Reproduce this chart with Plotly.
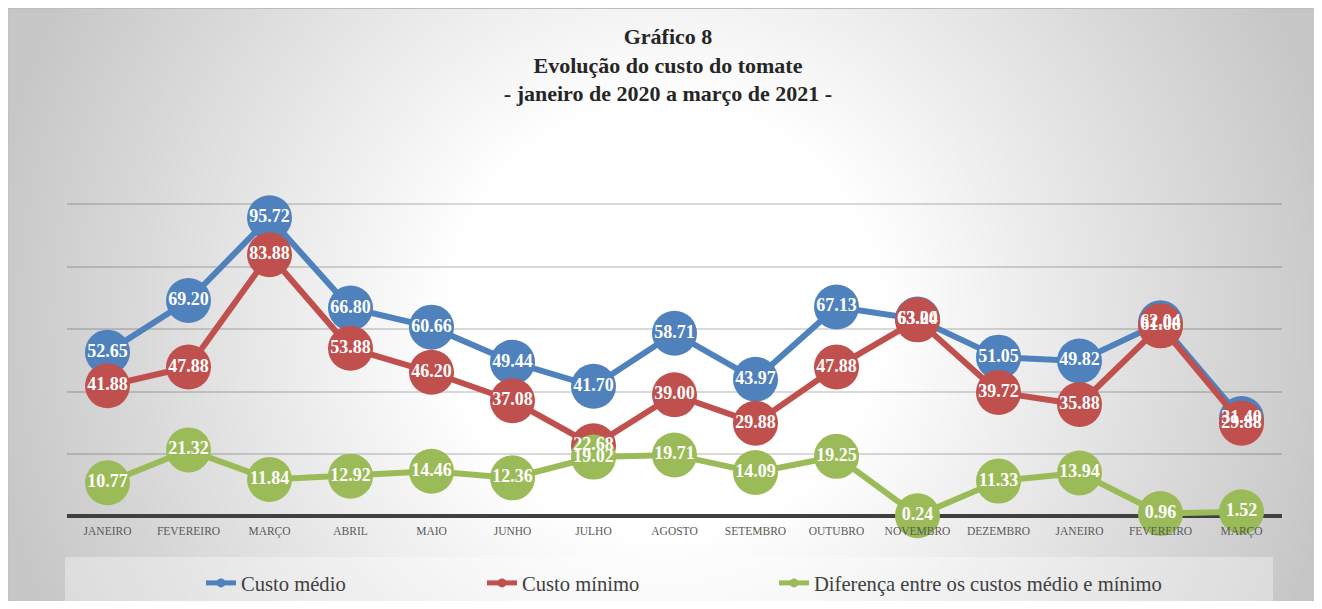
import base64, struct, zlib
import numpy as np
import plotly.graph_objects as go

# ---------------- data ----------------
months = ["JANEIRO", "FEVEREIRO", "MARÇO", "ABRIL", "MAIO", "JUNHO", "JULHO",
          "AGOSTO", "SETEMBRO", "OUTUBRO", "NOVEMBRO", "DEZEMBRO",
          "JANEIRO", "FEVEREIRO", "MARÇO"]
custo_medio = [52.65, 69.20, 95.72, 66.80, 60.66, 49.44, 41.70, 58.71, 43.97,
               67.13, 63.24, 51.05, 49.82, 62.04, 31.40]
custo_minimo = [41.88, 47.88, 83.88, 53.88, 46.20, 37.08, 22.68, 39.00, 29.88,
                47.88, 63.00, 39.72, 35.88, 61.08, 29.88]
diferenca = [10.77, 21.32, 11.84, 12.92, 14.46, 12.36, 19.02, 19.71, 14.09,
             19.25, 0.24, 11.33, 13.94, 0.96, 1.52]
series_names = ["Custo médio", "Custo mínimo", "Diferença entre os custos médio e mínimo"]
series_colors = ["#4F81BD", "#C0504D", "#9BBB59"]

# ---------------- geometry (figure px; page offset of 8px by body margin) ----------------
OFF = 8
FW, FH = 1306, 593
ML, MR, MT, MB = 67 - OFF, FW - (1282 - OFF), 142 - OFF, 83
PW, PH = FW - ML - MR, FH - MT - MB


def px2x(px):          # page px -> paper x
    return (px - OFF - ML) / PW


def py2y(py):          # page px -> paper y
    return (FH - MB - (py - OFF)) / PH


def cx(px):            # page px -> container x
    return (px - OFF) / FW


def cy(py):            # page px -> container y
    return 1 - (py - OFF) / FH


SERIF = "Liberation Serif"

# ---------------- background radial gradient (decoration) ----------------
GW, GH = 330, 150
xs = OFF + (np.arange(GW) + 0.5) * FW / GW
ys = OFF + (np.arange(GH) + 0.5) * FH / GH
gx, gy = np.meshgrid(xs, ys)
dist = np.hypot(gx - 665, gy - 320)
val = np.clip(255 - 0.12 * np.clip(dist - 220, 0, None), 198, 255).astype(np.uint8)
raw = b"".join(b"\x00" + val[i].tobytes() for i in range(GH))


def _chunk(t, data):
    return struct.pack(">I", len(data)) + t + data + struct.pack(">I", zlib.crc32(t + data) & 0xFFFFFFFF)


png = (b"\x89PNG\r\n\x1a\n"
       + _chunk(b"IHDR", struct.pack(">IIBBBBB", GW, GH, 8, 0, 0, 0, 0))
       + _chunk(b"IDAT", zlib.compress(raw, 9))
       + _chunk(b"IEND", b""))
bg_src = "data:image/png;base64," + base64.b64encode(png).decode()

# ---------------- figure ----------------
fig = go.Figure()
xi = list(range(len(months)))
all_series = [custo_medio, custo_minimo, diferenca]

# lines + markers
for name, vals, col in zip(series_names, all_series, series_colors):
    fig.add_trace(go.Scatter(
        x=xi, y=vals, name=name, mode="lines+markers",
        line=dict(color=col, width=6),
        marker=dict(color=col, size=45, line=dict(width=0)),
        cliponaxis=False, showlegend=False, hoverinfo="x+y",
    ))

# data labels drawn above every marker
for name, vals in zip(series_names, all_series):
    fig.add_trace(go.Scatter(
        x=xi, y=vals, name=name, mode="text",
        texttemplate="%{y:.2f}", textposition="middle center",
        textfont=dict(family=SERIF, size=18, color="white", weight="bold"),
        cliponaxis=False, showlegend=False, hoverinfo="skip",
    ))

# legend entries (one legend per series, placed like the original)
legend_text_px = [242, 523, 815]
for k, (name, col) in enumerate(zip(series_names, series_colors)):
    lg = "legend" if k == 0 else f"legend{k + 1}"
    fig.add_trace(go.Scatter(
        x=[None], y=[None], name=name, mode="lines+markers",
        line=dict(color=col, width=5), marker=dict(color=col, size=9),
        showlegend=True, legend=lg,
    ))

legend_common = dict(
    orientation="h", xref="container", yref="container",
    xanchor="left", yanchor="middle", y=cy(583),
    bgcolor="rgba(0,0,0,0)", borderwidth=0,
    font=dict(family=SERIF, size=20.6, color="#404040"),
)
fig.update_layout(
    legend=dict(x=cx(legend_text_px[0] - 41), **legend_common),
    legend2=dict(x=cx(legend_text_px[1] - 41), **legend_common),
    legend3=dict(x=cx(legend_text_px[2] - 41), **legend_common),
)

fig.update_layout(
    width=FW, height=FH,
    margin=dict(l=ML, r=MR, t=MT, b=MB, autoexpand=False),
    paper_bgcolor="white", plot_bgcolor="rgba(0,0,0,0)",
    title=dict(
        text="Gráfico 8<br>Evolução do custo do tomate<br>- janeiro de 2020 a março de 2021 -",
        x=cx(668), y=cy(44), xref="container", yref="container",
        xanchor="center", yanchor="top",
        font=dict(family=SERIF, size=22, color="#262626", weight="bold"),
    ),
    xaxis=dict(
        range=[-0.5, len(months) - 0.5], tickmode="array", tickvals=xi, ticktext=months,
        showgrid=False, zeroline=False, showline=False, ticks="",
        tickfont=dict(family=SERIF, size=11.5, color="#595959"),
        ticklabelstandoff=4, fixedrange=True,
    ),
    yaxis=dict(
        range=[-0.5, 120], dtick=20, tick0=0, showticklabels=False,
        showgrid=True, gridcolor="rgba(0,0,0,0.15)", gridwidth=2,
        zeroline=True, zerolinecolor="#404040", zerolinewidth=4,
        showline=False, ticks="", fixedrange=True,
    ),
    images=[dict(
        source=bg_src, xref="paper", yref="paper",
        x=px2x(OFF), y=py2y(OFF), sizex=FW / PW, sizey=FH / PH,
        xanchor="left", yanchor="top", sizing="stretch", layer="below",
    )],
    shapes=[
        dict(type="rect", xref="paper", yref="paper",
             x0=px2x(65), x1=px2x(1273), y0=py2y(OFF + FH), y1=py2y(557),
             fillcolor="rgba(255,255,255,0.35)", line=dict(width=0), layer="below"),
        dict(type="rect", xref="paper", yref="paper",
             x0=px2x(OFF), x1=px2x(OFF + FW + 2), y0=py2y(OFF + FH + 2), y1=py2y(OFF + 0.5),
             fillcolor="rgba(0,0,0,0)", line=dict(color="#bdbdbd", width=1), layer="below"),
    ],
)

fig.write_html("out.html")
